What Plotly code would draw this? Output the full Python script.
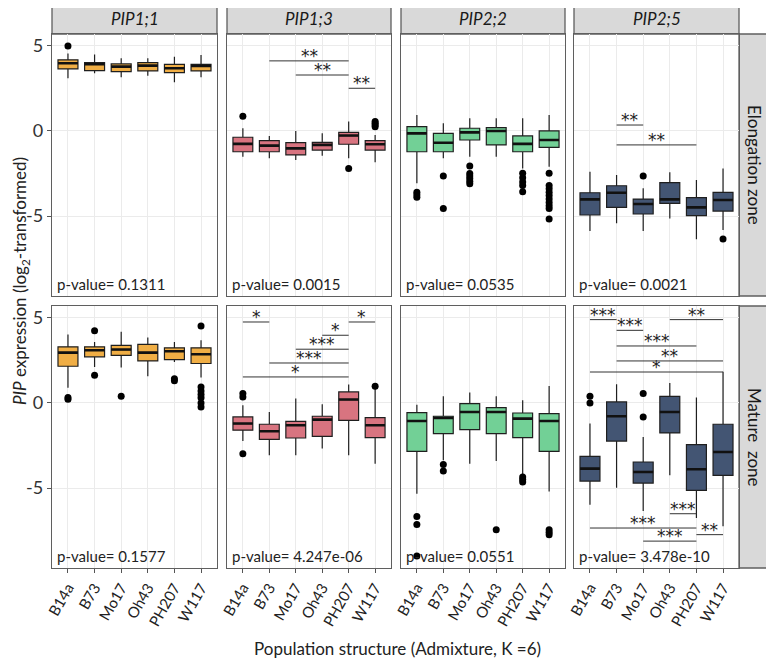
import plotly.graph_objects as go

CATS = ["B14a", "B73", "Mo17", "Oh43", "PH207", "W117"]
GENES = ["PIP1;1", "PIP1;3", "PIP2;2", "PIP2;5"]
ZONES = ["Elongation zone", "Mature\u00a0\u00a0zone"]
COLORS = ["#F0AE45", "#D87480", "#72D096", "#435573"]

# ---- Elongation zone box statistics ----
E_PIP11 = dict(lo=[3.10, 3.40, 3.16, 3.24, 2.86, 3.16], q1=[3.65, 3.55, 3.49, 3.53, 3.43, 3.53],
               med=[3.98, 3.92, 3.78, 3.84, 3.69, 3.82], q3=[4.18, 4.02, 3.94, 4.02, 3.92, 3.92],
               hi=[4.56, 4.50, 4.27, 4.27, 4.37, 4.47], out=[[5.0], [], [], [], [], []])
E_PIP13 = dict(lo=[-1.51, -1.61, -1.71, -1.45, -1.61, -1.84], q1=[-1.22, -1.22, -1.41, -1.12, -0.78, -1.12],
               med=[-0.76, -0.86, -1.02, -0.82, -0.27, -0.78], q3=[-0.37, -0.57, -0.69, -0.67, -0.08, -0.57],
               hi=[0.16, -0.29, 0.0, -0.14, 0.55, -0.24],
               out=[[0.86], [], [], [], [-2.2], [0.55, 0.45, 0.35, 0.25]])
E_PIP22 = dict(lo=[-3.08, -1.61, -1.51, -1.51, -2.2, -2.1], q1=[-1.22, -1.22, -0.53, -0.82, -1.22, -0.96],
               med=[-0.14, -0.69, -0.08, 0.0, -0.76, -0.53], q3=[0.25, -0.14, 0.16, 0.2, -0.29, 0.0],
               hi=[0.94, 0.45, 0.75, 0.75, 0.75, 0.94],
               out=[[-3.6, -3.75, -3.9], [-2.65, -4.55], [-2.06, -2.5, -2.65, -2.8, -2.95, -3.1], [],
                    [-2.49, -2.75, -3.0, -3.2, -3.57],
                    [-2.49, -3.2, -3.4, -3.6, -3.8, -4.0, -4.2, -4.4, -4.55, -5.18]])
E_PIP25 = dict(lo=[-5.88, -5.43, -5.88, -5.14, -6.37, -5.82], q1=[-4.94, -4.49, -4.88, -4.25, -4.98, -4.71],
               med=[-4.02, -3.63, -4.29, -4.02, -4.49, -4.06], q3=[-3.63, -3.22, -4.0, -3.04, -3.92, -3.61],
               hi=[-2.39, -2.59, -3.37, -2.43, -2.88, -2.2], out=[[], [], [-2.65], [], [], [-6.35]])

# ---- Mature zone box statistics ----
M_PIP11 = dict(lo=[0.9, 2.12, 2.08, 1.57, 2.41, 1.49], q1=[2.16, 2.71, 2.8, 2.47, 2.55, 2.32],
               med=[2.96, 3.1, 3.14, 2.96, 3.04, 2.86], q3=[3.3, 3.3, 3.39, 3.45, 3.24, 3.24],
               hi=[4.02, 3.59, 4.18, 3.85, 3.59, 3.69],
               out=[[0.32, 0.22], [4.24, 1.63], [0.39], [], [1.43, 1.3],
                    [4.53, 0.94, 0.7, 0.5, 0.3, 0.0, -0.23]])
M_PIP13 = dict(lo=[-2.24, -3.08, -3.08, -2.68, -3.08, -3.57], q1=[-1.6, -2.14, -2.06, -1.96, -1.02, -2.04],
               med=[-1.21, -1.66, -1.31, -0.98, 0.2, -1.31], q3=[-0.82, -1.25, -1.08, -0.78, 0.65, -0.86],
               hi=[-0.14, -0.53, 0.26, -0.08, 1.08, 0.85], out=[[0.55, 0.35, -2.98], [], [], [], [], [0.98]])
M_PIP22 = dict(lo=[-5.33, -3.37, -3.57, -3.41, -4.25, -5.2], q1=[-2.84, -1.8, -1.57, -1.8, -2.04, -2.84],
               med=[-1.06, -0.88, -0.53, -0.53, -0.92, -1.06], q3=[-0.57, -0.78, -0.04, -0.27, -0.59, -0.63],
               hi=[-0.1, 0.39, 0.61, 0.39, 0.16, 1.0],
               out=[[-6.67, -7.14, -9.0], [-3.61, -4.0], [], [-7.45], [-4.35, -4.5, -4.65], [-7.45, -7.6, -7.75]])
M_PIP25 = dict(lo=[-5.98, -4.98, -6.35, -4.25, -6.76, -7.25], q1=[-4.59, -2.24, -4.71, -1.76, -5.14, -4.25],
               med=[-3.86, -0.78, -4.06, -0.53, -3.9, -2.88], q3=[-3.14, 0.06, -3.47, 0.39, -2.45, -1.25],
               hi=[-1.21, 1.1, -2.0, 1.18, 0.32, 1.83], out=[[0.39, 0.0], [], [0.55, -0.82], [], [], []])

PANELS = [[E_PIP11, E_PIP13, E_PIP22, E_PIP25], [M_PIP11, M_PIP13, M_PIP22, M_PIP25]]

P_E = ["0.1311", "0.0015", "0.0535", "0.0021"]
P_M = ["0.1577", "4.247e-06", "0.0551", "3.478e-10"]
PVALS = [P_E, P_M]

# significance brackets: (row, col, from, to, height, label)
SIG = [
    (0, 1, "B73", "PH207", 4.12, "**"), (0, 1, "Mo17", "PH207", 3.29, "**"), (0, 1, "PH207", "W117", 2.51, "**"),
    (0, 3, "B73", "Mo17", 0.35, "**"), (0, 3, "B73", "PH207", -0.82, "**"),
    (1, 1, "B14a", "B73", 4.76, "*"), (1, 1, "PH207", "W117", 4.76, "*"), (1, 1, "Oh43", "PH207", 3.98, "*"),
    (1, 1, "Mo17", "PH207", 3.16, "***"), (1, 1, "B73", "PH207", 2.35, "***"), (1, 1, "B14a", "PH207", 1.53, "*"),
    (1, 3, "B14a", "B73", 4.9, "***"), (1, 3, "Oh43", "W117", 4.9, "**"), (1, 3, "B73", "Mo17", 4.27, "***"),
    (1, 3, "B73", "PH207", 3.35, "***"), (1, 3, "B73", "W117", 2.47, "**"), (1, 3, "B14a", "W117", 1.82, "*"),
    (1, 3, "Oh43", "PH207", -6.51, "***"), (1, 3, "B14a", "PH207", -7.35, "***"),
    (1, 3, "PH207", "W117", -7.74, "**"), (1, 3, "Mo17", "PH207", -8.12, "***"),
]

# page offset of the plot div (default body margin)
OFF = 8
W, H = 774 - OFF, 668 - OFF
COLS_PX = [(52, 217), (227, 391), (401, 565), (574, 739)]
ROWS_PX = [(34, 296), (306, 568)]
YR = [-9.7, 5.7]
FONT = "Lato"
BORDER = "#5F5F5F"


def px(x):
    return (x - OFF) / W


def py(y):
    return 1 - (y - OFF) / H


fig = go.Figure()
layout = dict(width=W, height=H, margin=dict(l=0, r=0, t=0, b=0, autoexpand=False), showlegend=False,
              plot_bgcolor="white", paper_bgcolor="white", font=dict(family=FONT, color="#222"))
annotations = []
shapes = []

for r in range(2):
    for c in range(4):
        k = r * 4 + c + 1
        xa, ya = f"x{k}", f"y{k}"
        st = PANELS[r][c]
        col = COLORS[c]
        fig.add_trace(go.Box(x=CATS, q1=st["q1"], median=st["med"], q3=st["q3"],
                             lowerfence=st["lo"], upperfence=st["hi"], boxpoints=False,
                             fillcolor=col, line=dict(color="#1F1F1F", width=1.2), whiskerwidth=0,
                             width=0.75, xaxis=xa, yaxis=ya, hoverinfo="skip"))
        fig.add_trace(go.Box(x=CATS, q1=st["med"], median=st["med"], q3=st["med"],
                             lowerfence=st["med"], upperfence=st["med"], boxpoints=False,
                             fillcolor="rgba(0,0,0,0)", line=dict(color="#111", width=2.6), whiskerwidth=0,
                             width=0.75, xaxis=xa, yaxis=ya, hoverinfo="skip"))
        ox, oy = [], []
        for cat, outs in zip(CATS, st["out"]):
            for v in outs:
                ox.append(cat)
                oy.append(v)
        fig.add_trace(go.Scatter(x=ox, y=oy, mode="markers", marker=dict(color="black", size=7),
                                 xaxis=xa, yaxis=ya, hoverinfo="skip"))
        x0, x1 = COLS_PX[c]
        y0, y1 = ROWS_PX[r]
        layout[f"xaxis{k}"] = dict(domain=[px(x0), px(x1)], anchor=ya, type="category",
                                   categoryorder="array", categoryarray=CATS, range=[-0.6, 5.6],
                                   showgrid=True, gridcolor="#EBEBEB", gridwidth=1,
                                   showline=True, linecolor=BORDER, linewidth=1.3, mirror=True,
                                   ticks="outside" if r == 1 else "", ticklen=4, tickcolor="#555",
                                   showticklabels=(r == 1), tickangle=-60,
                                   tickfont=dict(family=FONT, size=15, color="#222"), zeroline=False)
        layout[f"yaxis{k}"] = dict(domain=[py(y1), py(y0)], anchor=xa, range=YR,
                                   tickvals=[-5, 0, 5], ticktext=["-5", "0", "5"],
                                   showgrid=True, gridcolor="#EBEBEB", gridwidth=1,
                                   showline=True, linecolor=BORDER, linewidth=1.3, mirror=True,
                                   ticks="outside" if c == 0 else "", ticklen=4, tickcolor="#555",
                                   showticklabels=(c == 0),
                                   tickfont=dict(family=FONT, size=18, color="#333"), zeroline=False)
        annotations.append(dict(x=-0.5, y=-9.0, xref=xa, yref=ya, text=f"p-value= {PVALS[r][c]}",
                                showarrow=False, xanchor="left", yanchor="middle",
                                font=dict(family=FONT, size=15, color="#222")))

for (r, c, a, b, h, lab) in SIG:
    k = r * 4 + c + 1
    fig.add_trace(go.Scatter(x=[a, b], y=[h, h], mode="lines", line=dict(color="#333", width=1),
                             xaxis=f"x{k}", yaxis=f"y{k}", hoverinfo="skip"))
    mid = (CATS.index(a) + CATS.index(b)) / 2
    annotations.append(dict(x=mid, y=h, xref=f"x{k}", yref=f"y{k}", text=lab, showarrow=False,
                            xanchor="center", yanchor="bottom", yshift=-7,
                            font=dict(family="DejaVu Sans", size=17, color="#222")))

for c in range(4):
    x0, x1 = COLS_PX[c]
    shapes.append(dict(type="rect", xref="paper", yref="paper", x0=px(x0), x1=px(x1),
                       y0=py(34), y1=py(3), fillcolor="#D9D9D9",
                       line=dict(color=BORDER, width=1.3), layer="below"))
    annotations.append(dict(x=px((x0 + x1) / 2), y=py(18.5), xref="paper", yref="paper",
                            xanchor="center", yanchor="middle",
                            text=f"<i>{GENES[c]}</i>", showarrow=False,
                            font=dict(family=FONT, size=17, color="#1A1A1A")))
for r in range(2):
    y0, y1 = ROWS_PX[r]
    shapes.append(dict(type="rect", xref="paper", yref="paper", x0=px(739), x1=px(770),
                       y0=py(y1), y1=py(y0), fillcolor="#D9D9D9",
                       line=dict(color=BORDER, width=1.3), layer="below"))
    annotations.append(dict(x=px(755), y=py((y0 + y1) / 2), xref="paper", yref="paper",
                            xanchor="center", yanchor="middle",
                            text=ZONES[r], textangle=90, showarrow=False,
                            font=dict(family=FONT, size=17, color="#1A1A1A")))

annotations.append(dict(x=px(397), y=py(648), xref="paper", yref="paper", xanchor="center", yanchor="middle",
                        text="Population structure (Admixture, K =6)", showarrow=False,
                        font=dict(family=FONT, size=17, color="#222")))
annotations.append(dict(x=px(21), y=py(281), xref="paper", yref="paper", xanchor="center", yanchor="middle",
                        text="<i>PIP</i> expression (log<sub>2</sub>-transformed)", textangle=-90,
                        showarrow=False, font=dict(family=FONT, size=17, color="#222")))

layout["annotations"] = annotations
layout["shapes"] = shapes
fig.update_layout(**layout)
fig.write_html("out.html")
